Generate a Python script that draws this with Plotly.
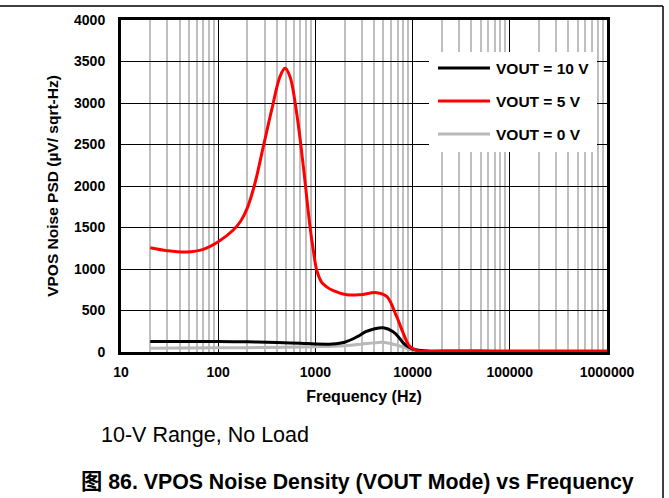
import plotly.graph_objects as go

# VPOS noise spectral density, 10-V range, no load
series_names = ["VOUT = 10 V", "VOUT = 5 V", "VOUT = 0 V"]
series_colors = ["#000000", "#FF0000", "#B8B8B8"]

freq_10v = [20, 50, 100, 200, 400, 700, 1000, 1500, 2000, 2700, 3300, 4000, 5000,
            6300, 7300, 8000, 9000, 10000, 12000, 15000, 20000, 100000, 1000000]
psd_10v = [128, 127, 126, 122, 115, 106, 96, 96, 118, 185, 245, 278, 292,
           245, 170, 110, 62, 36, 18, 10, 6, 4, 3]

freq_5v = [20, 30, 47, 70, 100, 143, 170, 200, 239, 291, 355, 432, 487, 548, 642, 752,
           880, 951, 1031, 1161, 1306, 1528, 2098, 2877, 4273, 5417, 6862, 8026,
           9400, 11900, 15000, 20000, 50000, 100000, 1000000]
psd_5v = [1257, 1221, 1205, 1237, 1329, 1470, 1575, 1740, 2033, 2474, 2916, 3317, 3418,
          3317, 2876, 2233, 1510, 1229, 988, 840, 785, 740, 690, 690, 715, 670,
          425, 225, 64, 8, 10, 15, 14, 13, 12]

freq_0v = [20, 100, 300, 1000, 2000, 3000, 4000, 4800, 6000, 7000, 8000, 9000,
           10000, 12000, 20000, 100000, 1000000]
psd_0v = [45, 50, 55, 64, 76, 95, 110, 116, 100, 82, 60, 38, 22, 10, 5, 3, 2]

x_tick_vals = [10, 100, 1000, 10000, 100000, 1000000]
x_tick_text = ["10", "100", "1000", "10000", "100000", "1000000"]
y_tick_vals = [0, 500, 1000, 1500, 2000, 2500, 3000, 3500, 4000]

caption_note = "10-V Range, No Load"
caption_title = "图 86. VPOS Noise Density (VOUT Mode) vs Frequency"

FONT = "Liberation Sans, Arial, sans-serif"
CJK_FONT = "Liberation Sans, Arial, Noto Sans CJK SC, sans-serif"

W, H = 669, 498
L, R, T, B = 121, 607, 20, 352   # plot area in pixels


def px(xp):
    return (xp - L) / (R - L)


def py(yp):
    return (B - yp) / (B - T)


fig = go.Figure()

# drawing order: gray under black, red on top
traces = [
    (freq_0v, psd_0v, 2),
    (freq_10v, psd_10v, 0),
    (freq_5v, psd_5v, 1),
]
for fx, fy, idx in traces:
    fig.add_trace(go.Scatter(
        x=fx, y=fy, mode="lines", name=series_names[idx],
        line=dict(color=series_colors[idx], width=3, shape="spline", smoothing=1.0),
        showlegend=False, hoverinfo="skip",
    ))

minor_vals = [d * 10 ** k for k in range(1, 6) for d in range(2, 10)]

fig.update_xaxes(
    type="log", range=[1, 6],
    tickmode="array", tickvals=x_tick_vals, ticktext=x_tick_text,
    showgrid=True, gridcolor="#000000", gridwidth=1,
    minor=dict(tickmode="array", tickvals=minor_vals, showgrid=True,
               gridcolor="#BFBFBF", gridwidth=2, ticks=""),
    showline=True, linecolor="#000000", linewidth=3, mirror=True,
    ticks="", zeroline=False, ticklabelstandoff=5,
    tickfont=dict(family=FONT, size=14, color="#000000", weight="bold"),
    title=dict(text="<b>Frequency (Hz)</b>", font=dict(family=FONT, size=16, color="#000000"),
               standoff=13),
)
fig.update_yaxes(
    range=[0, 4000], tickmode="array", tickvals=y_tick_vals,
    showgrid=True, gridcolor="#000000", gridwidth=1,
    showline=True, linecolor="#000000", linewidth=3, mirror=True,
    ticks="", zeroline=False, ticklabelstandoff=10,
    tickfont=dict(family=FONT, size=14, color="#000000", weight="bold"),
    title=dict(text="<b>VPOS Noise PSD (µV/ sqrt-Hz)</b>",
               font=dict(family=FONT, size=15.5, color="#000000"), standoff=12),
)

shapes = []
annotations = []

# legend panel
shapes.append(dict(type="rect", xref="paper", yref="paper",
                   x0=px(429), x1=px(597), y0=py(152), y1=py(52),
                   fillcolor="#FFFFFF", line=dict(width=0), layer="above"))
legend_rows = [68, 101, 134]
for i, yrow in enumerate(legend_rows):
    shapes.append(dict(type="line", xref="paper", yref="paper",
                       x0=px(438), x1=px(490), y0=py(yrow), y1=py(yrow),
                       line=dict(color=series_colors[i], width=3), layer="above"))
    annotations.append(dict(xref="paper", yref="paper", x=px(494), y=py(yrow),
                            text="<b>" + series_names[i] + "</b>", showarrow=False,
                            xanchor="left", yanchor="middle",
                            font=dict(family=FONT, size=15.5, color="#000000")))

# outer frame: top and right edges
shapes.append(dict(type="line", xref="paper", yref="paper",
                   x0=px(0), x1=px(663), y0=py(6), y1=py(6),
                   line=dict(color="#000000", width=1.5)))
shapes.append(dict(type="line", xref="paper", yref="paper",
                   x0=px(663), x1=px(663), y0=py(6), y1=py(498),
                   line=dict(color="#000000", width=1.5)))

# captions below the chart
annotations.append(dict(xref="paper", yref="paper", x=px(99), y=py(435),
                        text=caption_note, showarrow=False,
                        xanchor="left", yanchor="middle",
                        font=dict(family=FONT, size=21.5, color="#000000")))
annotations.append(dict(xref="paper", yref="paper", x=px(79), y=py(482),
                        text="<b>" + caption_title + "</b>", showarrow=False,
                        xanchor="left", yanchor="middle",
                        font=dict(family=CJK_FONT, size=21.3, color="#000000")))

fig.update_layout(
    width=W, height=H,
    margin=dict(l=L, r=W - R, t=T, b=H - B, pad=0),
    paper_bgcolor="#FFFFFF", plot_bgcolor="#FFFFFF",
    shapes=shapes, annotations=annotations, showlegend=False,
)

fig.write_html("out.html")
